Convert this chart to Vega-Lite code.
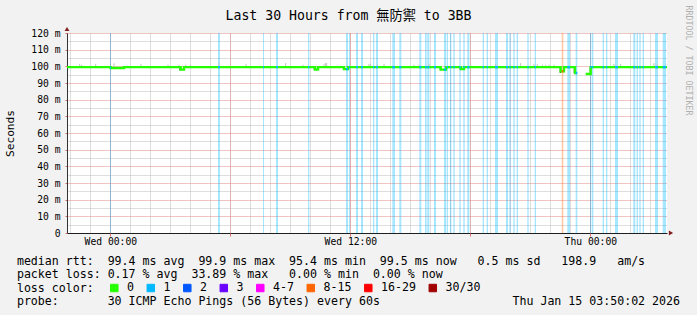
{
  "$schema": "https://vega.github.io/schema/vega-lite/v6.json",
  "width": 600,
  "height": 200,
  "autosize": {"type": "none"},
  "padding": {"left": 67, "top": 33, "right": 30, "bottom": 82},
  "background": "#f2f2f2",
  "config": {"view": {"fill": "white", "stroke": null}},
  "datasets": {
    "loss": [
      {"t": "2026-01-13T23:59:00Z", "t2": "2026-01-14T00:02:00Z", "loss": "1", "med": 99.2},
      {"t": "2026-01-14T05:23:00Z", "t2": "2026-01-14T05:29:00Z", "loss": "1", "med": 99.5},
      {"t": "2026-01-14T07:38:00Z", "t2": "2026-01-14T07:41:00Z", "loss": "1", "med": 99.5},
      {"t": "2026-01-14T08:17:00Z", "t2": "2026-01-14T08:23:00Z", "loss": "1", "med": 99.5},
      {"t": "2026-01-14T09:53:00Z", "t2": "2026-01-14T09:57:00Z", "loss": "1", "med": 99.5},
      {"t": "2026-01-14T11:47:00Z", "t2": "2026-01-14T11:53:00Z", "loss": "1", "med": 98.3},
      {"t": "2026-01-14T11:56:00Z", "t2": "2026-01-14T11:59:00Z", "loss": "1", "med": 99.5},
      {"t": "2026-01-14T12:17:00Z", "t2": "2026-01-14T12:23:00Z", "loss": "1", "med": 99.5},
      {"t": "2026-01-14T12:32:00Z", "t2": "2026-01-14T12:38:00Z", "loss": "1", "med": 99.5},
      {"t": "2026-01-14T13:08:00Z", "t2": "2026-01-14T13:12:00Z", "loss": "1", "med": 99.5},
      {"t": "2026-01-14T13:17:00Z", "t2": "2026-01-14T13:23:00Z", "loss": "1", "med": 99.5},
      {"t": "2026-01-14T14:06:00Z", "t2": "2026-01-14T14:14:00Z", "loss": "1", "med": 99.5},
      {"t": "2026-01-14T14:27:00Z", "t2": "2026-01-14T14:33:00Z", "loss": "1", "med": 99.5},
      {"t": "2026-01-14T15:27:00Z", "t2": "2026-01-14T15:33:00Z", "loss": "1", "med": 99.5},
      {"t": "2026-01-14T15:44:00Z", "t2": "2026-01-14T15:49:00Z", "loss": "1", "med": 99.5},
      {"t": "2026-01-14T15:51:00Z", "t2": "2026-01-14T15:57:00Z", "loss": "1", "med": 99.5},
      {"t": "2026-01-14T16:11:00Z", "t2": "2026-01-14T16:17:00Z", "loss": "1", "med": 99.5},
      {"t": "2026-01-14T16:41:00Z", "t2": "2026-01-14T16:47:00Z", "loss": "1", "med": 98.0},
      {"t": "2026-01-14T16:49:00Z", "t2": "2026-01-14T16:53:00Z", "loss": "1", "med": 99.5},
      {"t": "2026-01-14T16:59:00Z", "t2": "2026-01-14T17:03:00Z", "loss": "1", "med": 99.5},
      {"t": "2026-01-14T17:09:00Z", "t2": "2026-01-14T17:13:00Z", "loss": "1", "med": 99.5},
      {"t": "2026-01-14T17:27:00Z", "t2": "2026-01-14T17:31:00Z", "loss": "1", "med": 99.5},
      {"t": "2026-01-14T17:39:00Z", "t2": "2026-01-14T17:43:00Z", "loss": "1", "med": 99.5},
      {"t": "2026-01-14T17:51:00Z", "t2": "2026-01-14T17:57:00Z", "loss": "1", "med": 99.5},
      {"t": "2026-01-14T18:37:00Z", "t2": "2026-01-14T18:41:00Z", "loss": "1", "med": 99.5},
      {"t": "2026-01-14T18:49:00Z", "t2": "2026-01-14T18:53:00Z", "loss": "1", "med": 99.5},
      {"t": "2026-01-14T19:14:00Z", "t2": "2026-01-14T19:23:00Z", "loss": "1", "med": 99.5},
      {"t": "2026-01-14T19:47:00Z", "t2": "2026-01-14T19:53:00Z", "loss": "1", "med": 99.5},
      {"t": "2026-01-14T19:57:00Z", "t2": "2026-01-14T20:01:00Z", "loss": "1", "med": 99.5},
      {"t": "2026-01-14T20:09:00Z", "t2": "2026-01-14T20:13:00Z", "loss": "1", "med": 99.5},
      {"t": "2026-01-14T20:19:00Z", "t2": "2026-01-14T20:23:00Z", "loss": "1", "med": 99.5},
      {"t": "2026-01-14T20:51:00Z", "t2": "2026-01-14T20:55:00Z", "loss": "1", "med": 99.5},
      {"t": "2026-01-14T21:13:00Z", "t2": "2026-01-14T21:17:00Z", "loss": "1", "med": 99.5},
      {"t": "2026-01-14T22:34:00Z", "t2": "2026-01-14T22:39:00Z", "loss": "8-15", "med": 97.0},
      {"t": "2026-01-14T22:51:00Z", "t2": "2026-01-14T22:59:00Z", "loss": "1", "med": 99.5},
      {"t": "2026-01-14T23:16:00Z", "t2": "2026-01-14T23:21:00Z", "loss": "1", "med": 96.0},
      {"t": "2026-01-14T23:59:00Z", "t2": "2026-01-15T00:03:00Z", "loss": "1", "med": 99.5},
      {"t": "2026-01-15T00:05:00Z", "t2": "2026-01-15T00:09:00Z", "loss": "1", "med": 99.5},
      {"t": "2026-01-15T00:37:00Z", "t2": "2026-01-15T00:41:00Z", "loss": "1", "med": 99.5},
      {"t": "2026-01-15T00:47:00Z", "t2": "2026-01-15T00:51:00Z", "loss": "1", "med": 99.5},
      {"t": "2026-01-15T01:14:00Z", "t2": "2026-01-15T01:23:00Z", "loss": "1", "med": 99.5},
      {"t": "2026-01-15T02:09:00Z", "t2": "2026-01-15T02:15:00Z", "loss": "1", "med": 99.5},
      {"t": "2026-01-15T02:19:00Z", "t2": "2026-01-15T02:23:00Z", "loss": "1", "med": 99.5},
      {"t": "2026-01-15T02:27:00Z", "t2": "2026-01-15T02:31:00Z", "loss": "1", "med": 99.5},
      {"t": "2026-01-15T02:37:00Z", "t2": "2026-01-15T02:41:00Z", "loss": "1", "med": 99.5},
      {"t": "2026-01-15T03:14:00Z", "t2": "2026-01-15T03:23:00Z", "loss": "1", "med": 99.5},
      {"t": "2026-01-15T03:37:00Z", "t2": "2026-01-15T03:47:00Z", "loss": "1", "med": 99.5}
    ],
    "median": [
      {"t": "2026-01-13T21:50:00Z", "v": 99.5, "seg": "a"},
      {"t": "2026-01-14T00:01:00Z", "v": 99.0, "seg": "a"},
      {"t": "2026-01-14T00:41:00Z", "v": 99.5, "seg": "a"},
      {"t": "2026-01-14T03:31:00Z", "v": 98.0, "seg": "a"},
      {"t": "2026-01-14T03:41:00Z", "v": 99.5, "seg": "a"},
      {"t": "2026-01-14T10:14:00Z", "v": 98.0, "seg": "a"},
      {"t": "2026-01-14T10:23:00Z", "v": 99.5, "seg": "a"},
      {"t": "2026-01-14T11:41:00Z", "v": 98.3, "seg": "a"},
      {"t": "2026-01-14T11:53:00Z", "v": 99.5, "seg": "a"},
      {"t": "2026-01-14T16:31:00Z", "v": 98.0, "seg": "a"},
      {"t": "2026-01-14T16:47:00Z", "v": 99.5, "seg": "a"},
      {"t": "2026-01-14T17:32:00Z", "v": 98.3, "seg": "a"},
      {"t": "2026-01-14T17:41:00Z", "v": 99.5, "seg": "a"},
      {"t": "2026-01-14T22:31:00Z", "v": 97.0, "seg": "a"},
      {"t": "2026-01-14T22:41:00Z", "v": 99.5, "seg": "a"},
      {"t": "2026-01-14T23:14:00Z", "v": 96.0, "seg": "a"},
      {"t": "2026-01-14T23:20:00Z", "v": 96.0, "seg": "a"},
      {"t": "2026-01-14T23:46:00Z", "v": 95.4, "seg": "b"},
      {"t": "2026-01-15T00:01:00Z", "v": 99.5, "seg": "b"},
      {"t": "2026-01-15T03:50:00Z", "v": 99.5, "seg": "b"}
    ],
    "smoke": [
      {"t": "2026-01-13T22:28:00Z", "lo": 99.8, "hi": 101.5},
      {"t": "2026-01-13T22:34:00Z", "lo": 99.8, "hi": 101.0},
      {"t": "2026-01-13T23:16:00Z", "lo": 99.8, "hi": 101.5},
      {"t": "2026-01-14T00:11:00Z", "lo": 99.8, "hi": 101.8},
      {"t": "2026-01-14T01:32:00Z", "lo": 99.8, "hi": 101.5},
      {"t": "2026-01-14T02:53:00Z", "lo": 99.8, "hi": 101.0},
      {"t": "2026-01-14T03:26:00Z", "lo": 99.8, "hi": 101.0},
      {"t": "2026-01-14T03:46:00Z", "lo": 99.8, "hi": 101.0},
      {"t": "2026-01-14T04:01:00Z", "lo": 99.8, "hi": 101.0},
      {"t": "2026-01-14T05:26:00Z", "lo": 99.8, "hi": 102.0},
      {"t": "2026-01-14T06:47:00Z", "lo": 99.8, "hi": 101.5},
      {"t": "2026-01-14T08:46:00Z", "lo": 99.8, "hi": 102.0},
      {"t": "2026-01-14T09:38:00Z", "lo": 99.8, "hi": 101.0},
      {"t": "2026-01-14T10:41:00Z", "lo": 99.8, "hi": 101.5},
      {"t": "2026-01-14T10:46:00Z", "lo": 99.8, "hi": 102.0},
      {"t": "2026-01-14T10:49:00Z", "lo": 99.8, "hi": 102.0},
      {"t": "2026-01-14T12:56:00Z", "lo": 99.8, "hi": 101.5},
      {"t": "2026-01-14T13:01:00Z", "lo": 99.8, "hi": 101.5},
      {"t": "2026-01-14T13:21:00Z", "lo": 99.8, "hi": 101.0},
      {"t": "2026-01-14T13:41:00Z", "lo": 99.8, "hi": 101.5},
      {"t": "2026-01-14T15:11:00Z", "lo": 99.8, "hi": 101.0},
      {"t": "2026-01-14T15:26:00Z", "lo": 99.8, "hi": 101.0},
      {"t": "2026-01-14T15:56:00Z", "lo": 99.8, "hi": 101.5},
      {"t": "2026-01-14T18:01:00Z", "lo": 99.8, "hi": 101.5},
      {"t": "2026-01-14T19:16:00Z", "lo": 99.8, "hi": 101.5},
      {"t": "2026-01-14T20:01:00Z", "lo": 99.8, "hi": 101.0},
      {"t": "2026-01-14T20:31:00Z", "lo": 99.8, "hi": 102.0},
      {"t": "2026-01-14T21:11:00Z", "lo": 99.8, "hi": 101.5},
      {"t": "2026-01-14T21:21:00Z", "lo": 99.8, "hi": 101.5},
      {"t": "2026-01-14T21:36:00Z", "lo": 99.8, "hi": 101.0},
      {"t": "2026-01-14T21:46:00Z", "lo": 99.8, "hi": 101.0},
      {"t": "2026-01-14T21:56:00Z", "lo": 99.8, "hi": 101.0},
      {"t": "2026-01-14T22:11:00Z", "lo": 99.8, "hi": 101.0},
      {"t": "2026-01-15T01:11:00Z", "lo": 99.8, "hi": 101.5},
      {"t": "2026-01-15T01:31:00Z", "lo": 99.8, "hi": 101.5},
      {"t": "2026-01-15T02:11:00Z", "lo": 99.8, "hi": 101.0},
      {"t": "2026-01-15T03:11:00Z", "lo": 99.8, "hi": 102.0},
      {"t": "2026-01-15T03:21:00Z", "lo": 99.8, "hi": 101.5}
    ],
    "spread": [
      {"t": "2026-01-14T03:29:00Z", "lo": 97.5, "hi": 99.5},
      {"t": "2026-01-14T10:12:00Z", "lo": 97.8, "hi": 99.5},
      {"t": "2026-01-14T11:40:00Z", "lo": 97.8, "hi": 99.5},
      {"t": "2026-01-14T16:30:00Z", "lo": 97.8, "hi": 99.5},
      {"t": "2026-01-14T17:30:00Z", "lo": 97.8, "hi": 99.5},
      {"t": "2026-01-14T22:30:00Z", "lo": 96.0, "hi": 99.5},
      {"t": "2026-01-14T23:12:00Z", "lo": 96.0, "hi": 99.5},
      {"t": "2026-01-15T00:00:00Z", "lo": 95.4, "hi": 99.5}
    ],
    "arrowTop": [{"t": "2026-01-13T21:50:00Z", "v": 120}],
    "arrowRight": [{"t": "2026-01-15T03:50:00Z", "v": 0}]
  },
  "resolve": {"axis": {"x": "independent", "y": "independent"}},
  "layer": [
    {
      "data": {"name": "loss"},
      "mark": {"type": "rect", "opacity": 0.35, "strokeWidth": 0},
      "encoding": {
        "x": {
          "field": "t", "type": "temporal",
          "scale": {"type": "utc", "nice": false, "domain": [
            {"year": 2026, "month": 1, "date": 13, "hours": 21, "minutes": 50, "utc": true},
            {"year": 2026, "month": 1, "date": 15, "hours": 3, "minutes": 50, "utc": true}]},
          "axis": {
            "orient": "bottom",
            "tickCount": 30,
            "labelExpr": "utchours(datum.value) % 12 === 0 ? utcFormat(datum.value, '%a %H:%M') : ''",
            "labelFont": "DejaVu Sans Mono", "labelFontSize": 9.7, "labelColor": "black",
            "labelOverlap": false, "labelFlush": false, "labelPadding": 3,
            "ticks": false,
            "grid": true, "gridColor": "#bdbdbd", "gridDash": [1, 1],
            "domainColor": "#1f1f1f",
            "title": [
              "median\u00a0rtt:\u00a0\u00a099.4\u00a0ms\u00a0avg\u00a0\u00a099.9\u00a0ms\u00a0max\u00a0\u00a095.4\u00a0ms\u00a0min\u00a0\u00a099.5\u00a0ms\u00a0now\u00a0\u00a0\u00a00.5\u00a0ms\u00a0sd\u00a0\u00a0\u00a0198.9\u00a0\u00a0\u00a0am/s",
              "packet\u00a0loss:\u00a00.17\u00a0%\u00a0avg\u00a0\u00a033.89\u00a0%\u00a0max\u00a0\u00a0\u00a00.00\u00a0%\u00a0min\u00a0\u00a00.00\u00a0%\u00a0now",
              "loss\u00a0color:",
              "probe:\u00a0\u00a0\u00a0\u00a0\u00a0\u00a0\u00a030\u00a0ICMP\u00a0Echo\u00a0Pings\u00a0(56\u00a0Bytes)\u00a0every\u00a060s\u00a0\u00a0\u00a0\u00a0\u00a0\u00a0\u00a0\u00a0\u00a0\u00a0\u00a0\u00a0\u00a0\u00a0\u00a0\u00a0\u00a0\u00a0\u00a0Thu\u00a0Jan\u00a015\u00a003:50:02\u00a02026"
            ],
            "titleFont": "DejaVu Sans Mono", "titleFontSize": 11.6, "titleFontWeight": "normal", "titleColor": "black",
            "titleLineHeight": 13.6, "titleAlign": "left", "titleBaseline": "alphabetic",
            "titleX": -50.6, "titleY": 31.2
          }
        },
        "x2": {"field": "t2"},
        "y": {"datum": 0, "type": "quantitative", "scale": {"domain": [0, 120], "nice": false}, "axis": null},
        "y2": {"datum": 120},
        "color": {
          "field": "loss", "type": "nominal",
          "scale": {"domain": ["0", "1", "2", "3", "4-7", "8-15", "16-29", "30/30"],
                    "range": ["#26ff00", "#00b8ff", "#0059ff", "#6a00ff", "#ff00ff", "#ff6600", "#ff0000", "#a00000"]},
          "legend": {
            "orient": "none", "legendX": 41.5, "legendY": 249,
            "direction": "horizontal", "columns": 8, "columnPadding": 10.5,
            "title": null, "padding": 0,
            "symbolType": "square", "symbolSize": 56, "symbolStrokeColor": "black", "symbolStrokeWidth": 1, "symbolOpacity": 1,
            "labelFont": "DejaVu Sans Mono", "labelFontSize": 11.6, "labelColor": "black", "labelOffset": 7
          }
        }
      }
    },
    {
      "data": {"name": "smoke"},
      "mark": {"type": "rule", "color": "#c4c4c4", "strokeWidth": 1},
      "encoding": {
        "x": {
          "field": "t", "type": "temporal",
          "axis": {
            "orient": "bottom",
            "values": [
              {"year": 2026, "month": 1, "date": 14, "hours": 0, "utc": true},
              {"year": 2026, "month": 1, "date": 14, "hours": 6, "utc": true},
              {"year": 2026, "month": 1, "date": 14, "hours": 12, "utc": true},
              {"year": 2026, "month": 1, "date": 14, "hours": 18, "utc": true},
              {"year": 2026, "month": 1, "date": 15, "hours": 0, "utc": true}],
            "labels": false, "domain": false, "title": null,
            "ticks": true, "tickSize": 3, "tickColor": "#e07070",
            "grid": true, "gridColor": "#e28888", "gridDash": [1, 1]
          }
        },
        "y": {
          "field": "lo", "type": "quantitative",
          "axis": {
            "orient": "left",
            "values": [0, 10, 20, 30, 40, 50, 60, 70, 80, 90, 100, 110, 120],
            "labelExpr": "datum.value === 0 ? '0\u00a0\u00a0' : datum.value + '\u00a0m'",
            "labelFont": "DejaVu Sans Mono", "labelFontSize": 9.7, "labelColor": "black",
            "labelPadding": 5, "labelOverlap": false,
            "ticks": true, "tickSize": 2, "tickColor": "#e07070",
            "grid": true, "gridColor": "#e28888", "gridDash": [1, 1],
            "domain": false, "title": null
          }
        },
        "y2": {"field": "hi"}
      }
    },
    {
      "data": {"name": "spread"},
      "mark": {"type": "rule", "color": "#3a3a3a", "strokeWidth": 1.2},
      "encoding": {
        "x": {"field": "t", "type": "temporal", "axis": null},
        "y": {"field": "lo", "type": "quantitative", "axis": null},
        "y2": {"field": "hi"}
      }
    },
    {
      "data": {"name": "median"},
      "mark": {"type": "line", "interpolate": "step-after", "color": "#26ff00", "strokeWidth": 2.4},
      "encoding": {
        "x": {"field": "t", "type": "temporal", "axis": null},
        "y": {
          "field": "v", "type": "quantitative",
          "scale": {"domain": [0, 120], "nice": false},
          "axis": {
            "orient": "left",
            "values": [5, 15, 25, 35, 45, 55, 65, 75, 85, 95, 105, 115],
            "labels": false, "ticks": false,
            "grid": true, "gridColor": "#bdbdbd", "gridDash": [1, 1],
            "domainColor": "#333333",
            "title": "Seconds",
            "titleFont": "DejaVu Sans Mono", "titleFontSize": 11.2, "titleFontWeight": "normal", "titleColor": "black",
            "titleAngle": 270, "titleX": -57, "titleY": 100, "titleAlign": "center", "titleBaseline": "middle"
          }
        },
        "detail": {"field": "seg", "type": "nominal"}
      }
    },
    {
      "data": {"name": "loss"},
      "mark": {"type": "rule", "strokeWidth": 2.4},
      "encoding": {
        "x": {"field": "t", "type": "temporal", "axis": null},
        "x2": {"field": "t2"},
        "y": {"field": "med", "type": "quantitative", "axis": null},
        "stroke": {
          "field": "loss", "type": "nominal", "legend": null,
          "scale": {"domain": ["0", "1", "2", "3", "4-7", "8-15", "16-29", "30/30"],
                    "range": ["#26ff00", "#00b8ff", "#0059ff", "#6a00ff", "#ff00ff", "#ff6600", "#ff0000", "#a00000"]}
        }
      }
    },
    {
      "data": {"name": "arrowTop"},
      "mark": {"type": "point", "shape": "triangle-up", "filled": true, "color": "#801f1f", "size": 24, "opacity": 1, "yOffset": -4},
      "encoding": {
        "x": {
          "field": "t", "type": "temporal",
          "axis": {
            "orient": "top", "labels": false, "ticks": false, "domain": false, "grid": false,
            "title": "Last 30 Hours from 無防禦 to 3BB",
            "titleFont": "DejaVu Sans Mono, Noto Sans CJK TC", "titleFontSize": 13.2, "titleFontWeight": "normal", "titleColor": "black",
            "titleX": 281, "titleY": -13.5, "titleAlign": "center", "titleBaseline": "alphabetic"
          }
        },
        "y": {
          "field": "v", "type": "quantitative",
          "axis": {
            "orient": "right", "labels": false, "ticks": false, "domain": false, "grid": false,
            "title": "RRDTOOL / TOBI OETIKER",
            "titleFont": "DejaVu Sans Mono", "titleFontSize": 8.3, "titleFontWeight": "normal", "titleColor": "#b0b0b0",
            "titleAngle": 90, "titleX": 20, "titleY": 27, "titleAlign": "center", "titleBaseline": "middle"
          }
        }
      }
    },
    {
      "data": {"name": "arrowRight"},
      "mark": {"type": "point", "shape": "triangle-right", "filled": true, "color": "#801f1f", "size": 24, "opacity": 1, "xOffset": 4},
      "encoding": {
        "x": {"field": "t", "type": "temporal", "axis": null},
        "y": {"field": "v", "type": "quantitative", "axis": null}
      }
    }
  ]
}
